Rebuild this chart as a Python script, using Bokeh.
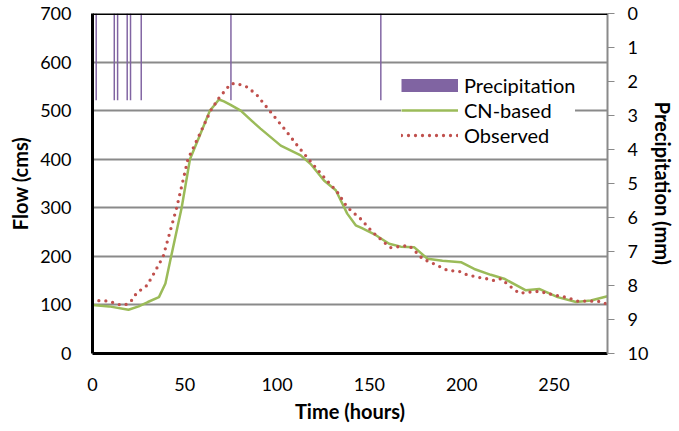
from bokeh.plotting import figure
from bokeh.models import Range1d, LinearAxis, FixedTicker, Legend, LegendItem, ColumnDataSource, Span
from bokeh.embed import file_html
from bokeh.resources import INLINE

# ---- data ----
time_cn = [0, 9, 19.5, 25, 30, 36, 39.5, 42.5, 48.3, 52.8, 58, 63.6, 65.8, 68.5, 71.2, 74.8,
           80.3, 86, 91, 102, 112.8, 118.2, 125.4, 131.8, 138, 142.6, 146, 152.5, 160.7, 167,
           174.2, 181.5, 189.6, 199.6, 206.8, 215.8, 223, 234.8, 242, 252, 262, 270, 279]
flow_cn = [100, 97, 90, 97, 106, 116, 144, 198, 300, 400, 448, 500, 510, 523, 519, 512,
           500, 480, 463, 428, 408, 390, 356, 336, 288, 264, 258, 246, 226, 220,
           219, 195, 191, 188, 174, 162, 154, 130, 133, 116, 106, 109, 118]

time_obs = [0, 2.3, 8.7, 14, 17.4, 20.4, 24, 29.5, 33, 36.2, 38.3, 45.6, 51.7, 58, 64, 68.5,
            74.8, 78, 84.2, 89.3, 97.4, 104.7, 111, 117.3, 125.4, 132.7, 138, 145.3, 151.7,
            158.9, 161.6, 168, 171.5, 175.2, 178.8, 184.2, 192.4, 198.7, 202.3, 208.6, 214.9,
            217.6, 221.3, 226.7, 231.2, 235.7, 242, 249.3, 257.4, 262.8, 269.2, 275.5, 279]
flow_obs = [104, 109, 108, 101, 99.5, 105, 125, 140, 163, 185, 200, 300, 400, 451, 500, 526,
            555, 556, 548, 531, 493, 459, 428, 399, 363, 332, 301, 277, 250,
            226, 218, 221, 222, 209, 195, 186, 171, 169, 163, 157, 153,
            150, 154, 137, 124, 126, 128, 121, 115, 108, 108, 107, 101]

time_precip = [2, 11.8, 13.6, 18.8, 20.6, 26.4, 75, 156.2]
precip_mm = [2.55, 2.55, 2.55, 2.55, 2.55, 2.55, 2.55, 2.55]

x_ticks = [0, 50, 100, 150, 200, 250]
y_ticks = [0, 100, 200, 300, 400, 500, 600, 700]
p_ticks = [0, 1, 2, 3, 4, 5, 6, 7, 8, 9, 10]

FONT = "Lato"
TXT = "#000000"
GRID = "#8a8a8a"
PURPLE = "#8064A2"
GREEN = "#9BBB59"
RED = "#C0504D"

p = figure(width=679, height=431, x_range=Range1d(0, 279), y_range=Range1d(0, 700),
           output_backend="svg", toolbar_location=None,
           min_border_left=92, min_border_right=72, min_border_top=13, min_border_bottom=78)
p.outline_line_color = None
p.background_fill_color = "white"
p.border_fill_color = "white"
p.extra_y_ranges = {"precip": Range1d(10, 0)}

# grid
p.xgrid.grid_line_color = None
p.ygrid.grid_line_color = GRID
p.ygrid.grid_line_width = 2
p.ygrid.ticker = FixedTicker(ticks=y_ticks)


def style_axis(ax, label, standoff, label_standoff):
    ax.major_tick_in = 0
    ax.minor_tick_out = 0
    ax.minor_tick_in = 0
    ax.major_label_standoff = standoff
    ax.major_label_text_font = FONT
    ax.major_label_text_font_size = "18px"
    ax.major_label_text_color = TXT
    ax.axis_label = label
    ax.axis_label_text_font = FONT
    ax.axis_label_text_font_size = "20px"
    ax.axis_label_text_font_style = "bold"
    ax.axis_label_text_color = TXT
    ax.axis_label_standoff = label_standoff


# left axis
ya = p.yaxis[0]
ya.ticker = FixedTicker(ticks=y_ticks)
ya.axis_line_color = "black"
ya.axis_line_width = 3
ya.major_tick_out = 0
style_axis(ya, "Flow (cms)", 21, 5)

# bottom axis
xa = p.xaxis[0]
xa.ticker = FixedTicker(ticks=x_ticks)
xa.axis_line_color = "black"
xa.axis_line_width = 3
xa.major_tick_out = 0
style_axis(xa, "Time (hours)", 24, 5)

# right axis (precipitation, inverted)
ra = LinearAxis(y_range_name="precip", ticker=FixedTicker(ticks=p_ticks))
ra.axis_line_color = GRID
ra.axis_line_width = 2
ra.major_tick_out = 7
ra.major_tick_line_color = GRID
ra.major_tick_line_width = 1
style_axis(ra, "Precipitation (mm)", 13, 0)
p.add_layout(ra, "right")

# thick top line (secondary x axis position, precipitation = 0)
p.add_layout(Span(location=700, dimension="width", line_color="black", line_width=3))

src_p = ColumnDataSource(dict(t=time_precip, v=precip_mm, z=[0] * len(time_precip)))
p.vbar(x="t", top="z", bottom="v", width=0.8, source=src_p, y_range_name="precip",
       fill_color=PURPLE, line_color=None)

r_cn = p.line(time_cn, flow_cn, line_color=GREEN, line_width=2.5, line_join="round")
r_obs = p.line(time_obs, flow_obs, line_color=RED, line_width=3.3, line_dash="0 7",
               line_cap="round", line_join="round")

# legend swatch for precipitation: thick bar sample (hidden renderer, legend only)
r_pl = p.line(time_precip, precip_mm, y_range_name="precip", line_color=PURPLE,
              line_width=13, visible=False)

legend = Legend(items=[LegendItem(label="Precipitation", renderers=[r_pl]),
                       LegendItem(label="CN-based", renderers=[r_cn]),
                       LegendItem(label="Observed", renderers=[r_obs])],
                location=(309, 206))
legend.glyph_width = 57
legend.glyph_height = 20
legend.label_height = 20
legend.spacing = 1
legend.padding = 8
legend.margin = 0
legend.label_standoff = 6
legend.label_text_font = FONT
legend.label_text_font_size = "20px"
legend.label_text_color = TXT
legend.border_line_color = None
legend.background_fill_color = "white"
legend.background_fill_alpha = 1.0
legend.inactive_fill_alpha = 0.0
p.add_layout(legend, "center")

open("out.html", "w").write(file_html(p, INLINE))
